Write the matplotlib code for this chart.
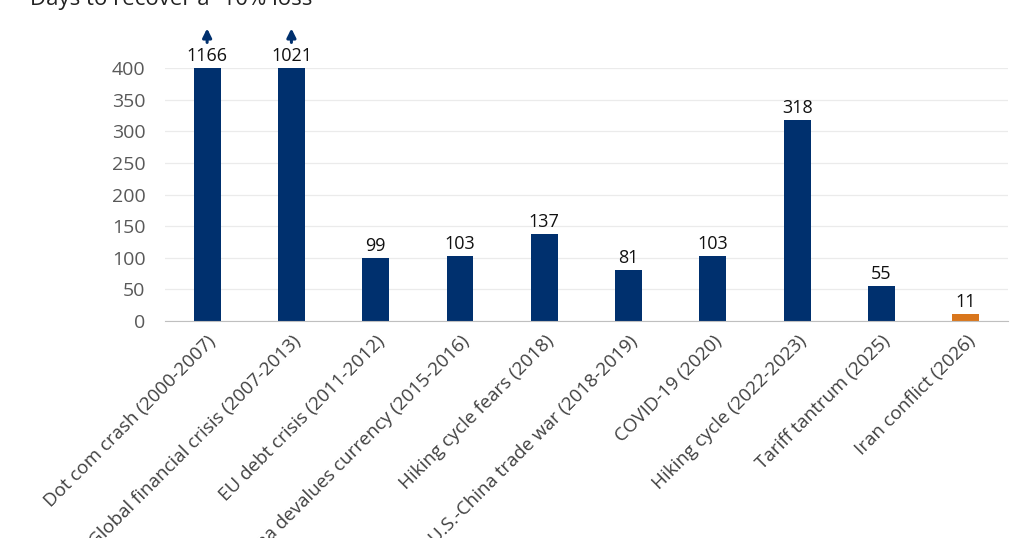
import numpy as np
import matplotlib.pyplot as plt

plt.rcParams['font.family'] = ['Open Sans', 'DejaVu Sans']

# datos
categorias = ['Dot com crash (2000-2007)', 'Global financial crisis (2007-2013)',
              'EU debt crisis (2011-2012)', 'China devalues currency (2015-2016)',
              'Hiking cycle fears (2018)', 'U.S.-China trade war (2018-2019)',
              'COVID-19 (2020)', 'Hiking cycle (2022-2023)',
              'Tariff tantrum (2025)', 'Iran conflict (2026)']
dias = [1166, 1021, 99, 103, 137, 81, 103, 318, 55, 11]
tope = 400

azul = '#00306e'
naranja = '#d9761c'

fig = plt.figure(figsize=(10.24, 5.38), dpi=100)
ax = fig.add_axes([0.1611, 0.4033, 0.8232, 0.4703])

x = np.arange(len(categorias))
alturas = [min(d, tope) for d in dias]
colores = [azul] * (len(dias) - 1) + [naranja]
ax.bar(x, alturas, width=0.32, color=colores, zorder=3)

# etiquetas de valor y flechas para las barras recortadas
for xi, d, h in zip(x, dias, alturas):
    ax.text(xi, h + 5, str(d), ha='center', va='bottom', fontsize=13,
            color='#111111')
    if d > tope:
        ax.annotate('', xy=(xi, 467), xytext=(xi, 436),
                    arrowprops=dict(arrowstyle='-|>', color=azul, lw=2.2,
                                    mutation_scale=13),
                    annotation_clip=False)

ax.set_xlim(-0.5, len(categorias) - 0.5)
ax.set_ylim(0, tope)
ax.set_yticks(np.arange(0, 401, 50))
ax.yaxis.grid(True, color='#ebebeb', lw=0.9, zorder=0)
ax.set_xticks(x)
ax.set_xticklabels(categorias, rotation=45, ha='right', rotation_mode='anchor',
                   fontsize=13.5, color='#404040')
ax.tick_params(axis='y', length=0, labelsize=14, labelcolor='#595959', pad=14)
ax.tick_params(axis='x', length=0, pad=8)
for s in ['top', 'right', 'left']:
    ax.spines[s].set_visible(False)
ax.spines['bottom'].set_color('#bfbfbf')
ax.spines['bottom'].set_zorder(4)

fig.text(0.029, 0.991, 'Days to recover a -10% loss', fontsize=16,
         color='#222222', va='baseline')

fig.savefig('out.png', dpi=100)
